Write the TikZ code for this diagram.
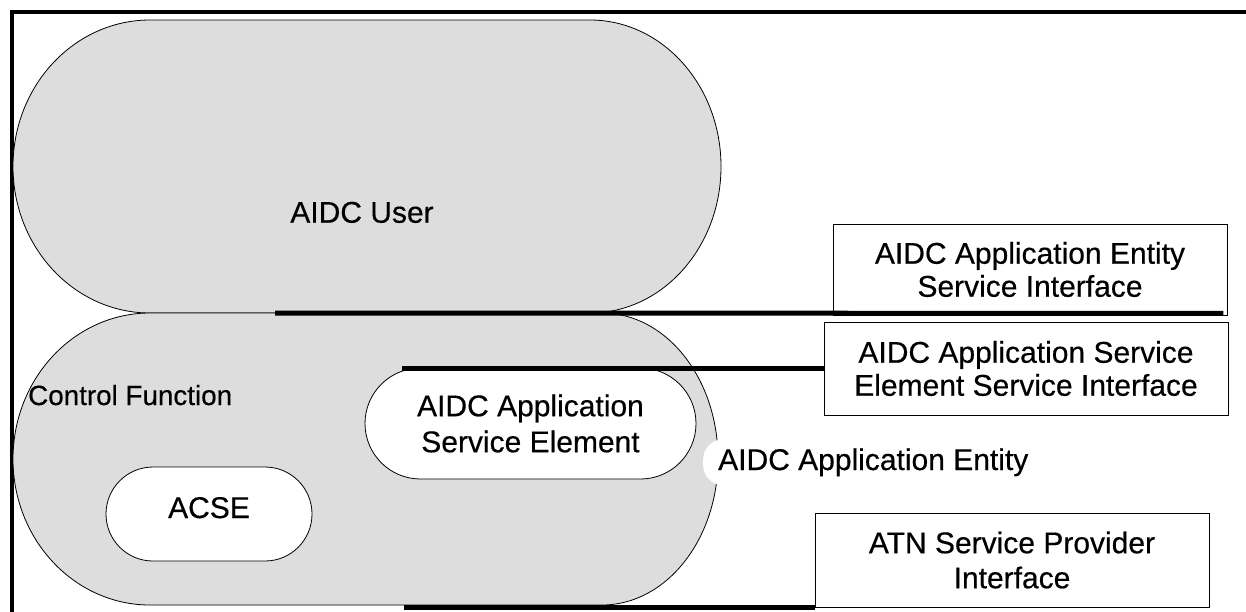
\documentclass[tikz,border=0pt]{standalone}
\usepackage{fontspec}
\setmainfont{Liberation Sans}[FakeBold=0.4]
\usetikzlibrary{shapes.misc}
\definecolor{shade}{RGB}{221,221,221}
\begin{document}
\begin{tikzpicture}[x=1pt,y=-1pt,
  blob/.style={draw=black, line width=0.8pt, fill=shade},
  pill/.style={draw=black, line width=0.8pt, fill=white, rounded rectangle, inner sep=0pt},
  ifbox/.style={draw=black, line width=0.8pt, fill=white, align=center, inner sep=0pt,
                font=\fontsize{30}{33}\selectfont},
  biglbl/.style={font=\fontsize{30}{36}\selectfont, inner sep=0pt},
  iface/.style={line width=5pt},
  frameline/.style={line width=3.5pt}]
\useasboundingbox (0,0) rectangle (1246,611);
% outer frame (only top and left visible)
\draw[frameline] (11.75,630) -- (11.75,11.75) -- (1260,11.75);
% AIDC User region
\path[blob] (150,20) -- (590,20) arc[start angle=-90, end angle=90, x radius=131, y radius=146.5]
  -- (150,313) arc[start angle=90, end angle=270, x radius=137, y radius=146.5] -- cycle;
% Control Function region
\path[blob] (150,313) -- (602,313) arc[start angle=-90, end angle=90, x radius=116, y radius=146]
  -- (150,605) arc[start angle=90, end angle=270, x radius=137, y radius=146] -- cycle;
\node[biglbl, anchor=base] (user) at (362,222.7) {AIDC User};
\node[font=\fontsize{27.8}{30}\selectfont, inner sep=0pt, anchor=base west] (cf) at (28,405) {Control Function};
% inner elements
\node[pill, minimum width=206pt, minimum height=94pt] (acse) at (209,514) {};
\node[biglbl, anchor=base] (acsetxt) at (acse.center |- 0,518) {ACSE};
\node[pill, minimum width=331pt, minimum height=111pt, align=center,
      font=\fontsize{30}{36}\selectfont] (ase) at (530.5,423.5) {AIDC Application\\Service Element};
% entity label with white background
\node[biglbl, fill=white, rounded corners=20pt, inner xsep=15pt, inner ysep=9pt,
      anchor=base west] (ae) at (703,470) {\hspace*{0pt}AIDC Application Entity};
% interface boxes
\node[ifbox, minimum width=394pt, minimum height=91pt] (b1) at (1030,269.5)
  {AIDC Application Entity\\Service Interface};
\node[ifbox, minimum width=404pt, minimum height=93pt] (b2) at (1026,368.5)
  {AIDC Application Service\\Element Service Interface};
\node[ifbox, minimum width=394pt, minimum height=94pt, font=\fontsize{30}{35}\selectfont] (b3) at (1012,560)
  {ATN Service Provider\\Interface};
% interface lines
\coordinate (l1s) at (275,313);
\coordinate (l1e) at ([xshift=-4pt,yshift=2pt]b1.south east);
\coordinate (l2s) at (402,368);
\coordinate (l3s) at (404,607);
\draw[iface] (l1s) -- (l1e);
\draw[iface] (l2s) -- (l2s -| b2.west);
\draw[iface] (l3s) -- (l3s -| b3.west);
\end{tikzpicture}
\end{document}
